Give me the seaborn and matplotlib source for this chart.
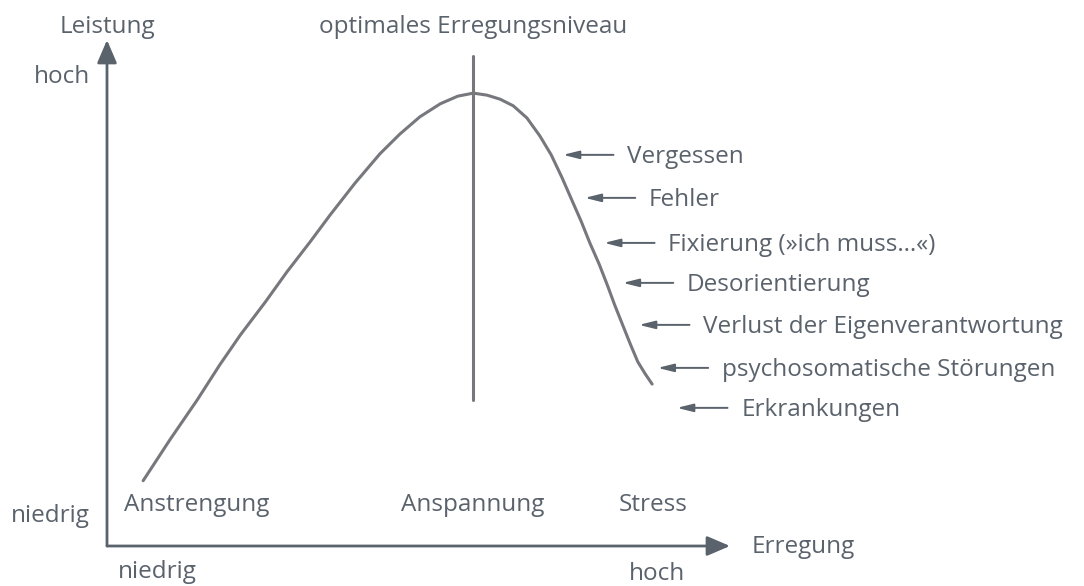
import numpy as np
import pandas as pd
import matplotlib
matplotlib.use("Agg")
import matplotlib.pyplot as plt
import seaborn as sns

# curve (x = Erregung, y = Leistung, both 0..10)
erregung = [0.58, 1.01, 1.45, 1.81, 2.14, 2.54, 2.89, 3.26, 3.58, 3.98, 4.38,
            4.70, 5.02, 5.35, 5.63, 5.88, 6.10, 6.31, 6.52, 6.74, 6.95, 7.13,
            7.30, 7.46, 7.61, 7.75, 7.90, 8.03, 8.15, 8.27, 8.40, 8.52, 8.64, 8.75]
leistung = [1.29, 2.10, 2.89, 3.58, 4.17, 4.82, 5.42, 6.01, 6.54, 7.17, 7.75,
            8.14, 8.48, 8.74, 8.89, 8.95, 8.91, 8.83, 8.70, 8.46, 8.10, 7.73,
            7.29, 6.84, 6.42, 5.99, 5.57, 5.16, 4.76, 4.39, 3.99, 3.64, 3.40, 3.20]

optimum_x = 5.87
optimum_range = (2.89, 9.68)

phasen = ["Anstrengung", "Anspannung", "Stress"]
phasen_x = [0.27, 5.87, 8.76]

folgen = ["Vergessen", "Fehler", "Fixierung (»ich muss…«)", "Desorientierung",
          "Verlust der Eigenverantwortung", "psychosomatische Störungen", "Erkrankungen"]
folgen_tip_x = [7.32, 7.67, 7.98, 8.28, 8.54, 8.84, 9.15]
folgen_y = [7.73, 6.88, 5.99, 5.20, 4.37, 3.52, 2.73]

text_col = "#5a626c"
line_col = "#76787e"

sns.set_theme(style="white")
plt.rcParams["font.family"] = ["Open Sans", "DejaVu Sans"]
fs = 17.5

fig = plt.figure(figsize=(10.84, 5.86), dpi=100)
# axes origin = pixel (107, 546), top right = pixel (730, 40)
ax = fig.add_axes([107 / 1084, 40 / 586, 623 / 1084, 506 / 586])
ax.set_xlim(0, 10)
ax.set_ylim(0, 10)
ax.axis("off")

df = pd.DataFrame({"Erregung": erregung, "Leistung": leistung})
sns.lineplot(data=df, x="Erregung", y="Leistung", ax=ax, color=line_col, lw=2.2, sort=False)
ax.plot([optimum_x, optimum_x], optimum_range, color=line_col, lw=2.2)

# axes with arrow heads
arr = dict(arrowstyle="-|>,head_length=0.7,head_width=0.3", color=text_col, lw=2,
           mutation_scale=20, shrinkA=0, shrinkB=0)
ax.annotate("", xy=(0, 10), xytext=(0, 0), arrowprops=arr, annotation_clip=False)
ax.annotate("", xy=(10, 0), xytext=(0, 0), arrowprops=arr, annotation_clip=False)

ax.text(0, 10.14, "Leistung", ha="center", va="baseline", fontsize=fs, color=text_col)
ax.text(optimum_x, 10.14, "optimales Erregungsniveau", ha="center", va="baseline",
        fontsize=fs, color=text_col)
ax.text(-0.27, 9.15, "hoch", ha="right", va="baseline", fontsize=fs, color=text_col)
ax.text(-0.27, 0.47, "niedrig", ha="right", va="baseline", fontsize=fs, color=text_col)
ax.text(0.18, -0.63, "niedrig", ha="left", va="baseline", fontsize=fs, color=text_col)
ax.text(8.83, -0.67, "hoch", ha="center", va="baseline", fontsize=fs, color=text_col)
ax.text(10.35, -0.14, "Erregung", ha="left", va="baseline", fontsize=fs, color=text_col)

for i, (lab, x) in enumerate(zip(phasen, phasen_x)):
    ax.text(x, 0.69, lab, ha="left" if i == 0 else "center", va="baseline",
            fontsize=fs, color=text_col)

small = dict(arrowstyle="-|>,head_length=0.8,head_width=0.2", color=text_col, lw=1.4,
             mutation_scale=12, shrinkA=0, shrinkB=0)
for lab, tx, y in zip(folgen, folgen_tip_x, folgen_y):
    ax.annotate("", xy=(tx, y), xytext=(tx + 0.81, y), arrowprops=small,
                annotation_clip=False)
    ax.text(tx + 1.03, y - 0.16, lab, ha="left", va="baseline", fontsize=fs,
            color=text_col, clip_on=False)

fig.savefig("out.png", dpi=100, facecolor="white")
